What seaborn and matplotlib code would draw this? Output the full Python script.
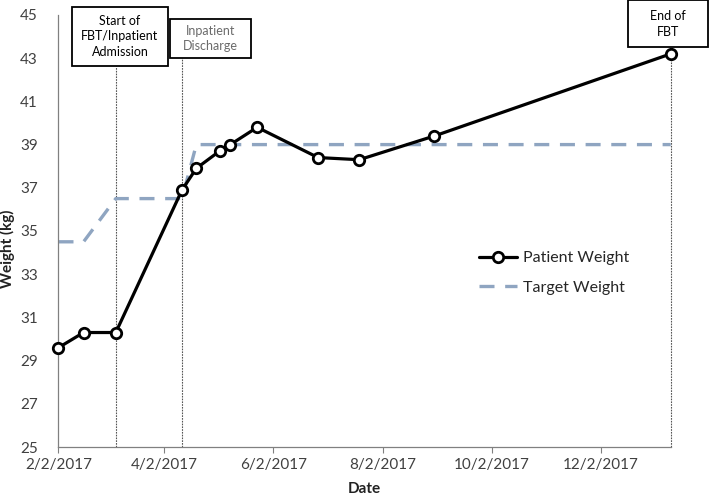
import matplotlib
matplotlib.use("Agg")
import matplotlib.pyplot as plt
import matplotlib.dates as mdates
from matplotlib.patches import Rectangle
import seaborn as sns
import pandas as pd

# ---- data ----
dates = ["2017-02-02", "2017-02-16", "2017-03-06", "2017-04-12", "2017-04-20",
         "2017-05-03", "2017-05-09", "2017-05-24", "2017-06-27", "2017-07-20",
         "2017-08-31", "2018-01-10"]
patient_weight = [29.6, 30.3, 30.3, 36.9, 37.9, 38.7, 39.0, 39.8, 38.4, 38.3, 39.4, 43.2]
target_weight = [34.5, 34.5, 36.5, 36.5, 39.0, 39.0, 39.0, 39.0, 39.0, 39.0, 39.0, 39.0]
event_dates = ["2017-03-06", "2017-04-12", "2018-01-10"]
event_tops = [42.65, 43.0, 43.2]
event_labels = ["Start of\nFBT/Inpatient\nAdmission", "Inpatient\nDischarge", "End of\nFBT"]
tick_dates = ["2017-02-02", "2017-04-02", "2017-06-02", "2017-08-02", "2017-10-02", "2017-12-02"]
y_ticks = [25, 27, 29, 31, 33, 35, 37, 39, 41, 43, 45]

df = pd.DataFrame({"Date": pd.to_datetime(dates),
                   "Patient Weight": patient_weight,
                   "Target Weight": target_weight})

sns.set_theme(style="white")
plt.rcParams["font.family"] = ["Lato", "DejaVu Sans"]

fig = plt.figure(figsize=(7.09, 4.98), dpi=100)
ax = fig.add_axes([0.0825, 0.1024, 0.8635, 0.8675])

# event vertical lines
for d, t in zip(pd.to_datetime(event_dates), event_tops):
    ax.plot([d, d], [25, t], color="#555555", lw=0.8, ls=(0, (1.5, 1.0)),
            zorder=1, clip_on=False)

sns.lineplot(data=df, x="Date", y="Target Weight", ax=ax, color="#8FA5C1",
             lw=2.4, label="Target Weight", zorder=2)
ax.lines[-1].set_dashes((4.5, 3.2))
sns.lineplot(data=df, x="Date", y="Patient Weight", ax=ax, color="black",
             lw=2.3, marker="o", markersize=7.5, markerfacecolor="white",
             markeredgecolor="black", markeredgewidth=2.0,
             label="Patient Weight", zorder=3, clip_on=False)

ax.set_xlim(pd.Timestamp("2017-02-02"), pd.Timestamp("2018-01-10"))
ax.set_ylim(25, 45)
ax.set_yticks(y_ticks)
ax.set_xticks(pd.to_datetime(tick_dates))
ax.xaxis.set_major_formatter(mdates.DateFormatter("%-m/%-d/%Y"))
ax.tick_params(axis="x", length=4, width=0.8, color="#808080", direction="out",
               labelsize=11, labelcolor="#404040", pad=4, bottom=True)
ax.tick_params(axis="y", length=0, labelsize=11, labelcolor="#404040", pad=15)

for s in ["top", "right"]:
    ax.spines[s].set_visible(False)
for s in ["left", "bottom"]:
    ax.spines[s].set_color("#808080")
    ax.spines[s].set_linewidth(0.9)

ax.set_xlabel("Date", fontsize=11, fontweight="bold", color="#222222", labelpad=7)
ax.set_ylabel("Weight (kg)", fontsize=11, fontweight="bold", color="#222222")
ax.yaxis.set_label_coords(-0.071, 0.458)

handles, labels = ax.get_legend_handles_labels()
order = [labels.index("Patient Weight"), labels.index("Target Weight")]
ax.legend([handles[i] for i in order], [labels[i] for i in order],
          frameon=False, fontsize=11.5, loc="center left",
          bbox_to_anchor=(0.663, 0.403), handlelength=2.4, handletextpad=0.4,
          labelspacing=0.95, labelcolor="#262626")

# annotation boxes (figure pixel positions)
W, H = 709, 498
boxes = [((72.3, 167.7), (7.3, 65.7), "black"),
         ((170.0, 251.0), (19.0, 57.7), "#6b6b6b"),
         ((627.7, 708.0), (0.5, 47.3), "black")]
for ((x0, x1), (y0, y1), col), lab in zip(boxes, event_labels):
    fig.patches.append(Rectangle((x0 / W, 1 - y1 / H), (x1 - x0) / W, (y1 - y0) / H,
                                 transform=fig.transFigure, fill=True, facecolor="white",
                                 edgecolor="black", lw=1.3, zorder=5))
    fig.text((x0 + x1) / 2 / W, 1 - (y0 + y1) / 2 / H, lab, ha="center", va="center",
             fontsize=9.0, color=col, linespacing=1.35, zorder=6)

fig.savefig("out.png", dpi=100)
